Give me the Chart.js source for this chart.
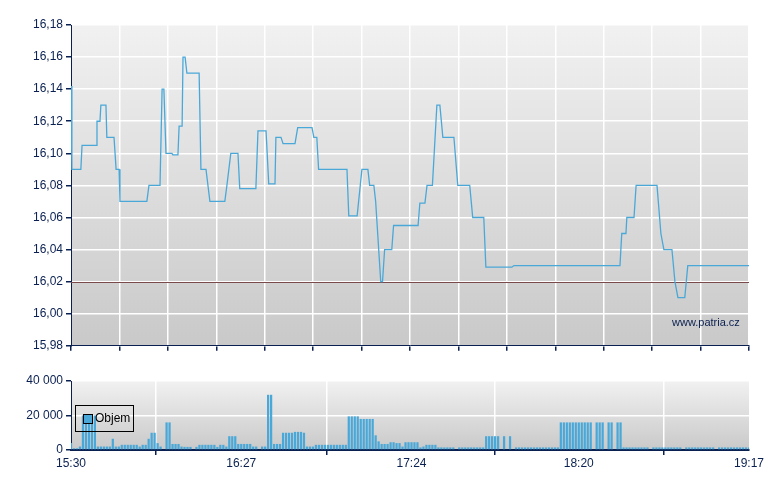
<!DOCTYPE html>
<html><head><meta charset="utf-8">
<script src="https://cdn.jsdelivr.net/npm/chart.js@4"></script>
<style>
body{margin:0;background:#fff;width:780px;height:490px;position:relative;overflow:hidden;font-family:"Liberation Sans",Arial,sans-serif}
#c1{position:absolute;left:0;top:0}
#c2{position:absolute;left:0;top:370px}
#wm{position:absolute;left:672px;top:316px;font-size:11px;color:#0a2050}
#lg{position:absolute;left:75px;top:405px;width:59px;height:27px;border:1px solid #000;font-size:12px;color:#000;box-sizing:border-box}
#lg span.sq{position:absolute;left:7px;top:8px;width:8px;height:8px;background:#4aa8d8;border:1px solid #000}
#lg span.t{position:absolute;left:19px;top:5px}
</style></head><body>
<canvas id="c1" width="780" height="356"></canvas>
<canvas id="c2" width="780" height="120"></canvas>
<div id="wm">www.patria.cz</div>
<div id="lg"><span class="sq"></span><span class="t">Objem</span></div>
<script>
// times in minutes after 15:30
const priceTimes = [
0,0.3,3.3,3.7,8.4,8.7,9.7,10,11.7,12,
14.4,15.1,16.1,16.4,25.4,26.1,29.8,30.5,31.1,31.8,
33.8,34.1,35.8,36.2,37.2,37.5,38.2,38.8,42.9,43.5,
45.2,46.5,51.5,52.2,53.5,55.9,56.5,61.9,62.6,65.3,
66.2,68.3,68.6,70.3,71,75,75.9,80.7,81.3,82.3,
82.9,92.4,93,95.8,97.4,99.4,100,101.4,102,103.7,
104.3,105,107.4,108,116.2,116.8,118.5,119.2,121,122.5,
123.5,124.5,128.2,129.5,133.5,134.5,138.2,138.9,147.6,148.3,
183.8,184.4,185.8,186.1,188.5,189.2,196.2,197.5,198.5,201.2,
202.2,203.2,205.5,206.5,227];
const priceVals = [
16.142,16.09,16.09,16.105,16.105,16.12,16.12,16.13,16.13,16.11,
16.11,16.09,16.09,16.07,16.07,16.08,16.08,16.14,16.14,16.10,
16.10,16.099,16.099,16.117,16.117,16.16,16.16,16.15,16.15,16.09,
16.09,16.07,16.07,16.08,16.10,16.10,16.078,16.078,16.114,16.114,
16.081,16.081,16.11,16.11,16.106,16.106,16.116,16.116,16.11,16.11,
16.09,16.09,16.061,16.061,16.09,16.09,16.08,16.08,16.07,16.02,
16.02,16.04,16.04,16.055,16.055,16.069,16.069,16.08,16.08,16.13,
16.13,16.11,16.11,16.08,16.08,16.06,16.06,16.029,16.029,16.03,
16.03,16.05,16.05,16.06,16.06,16.08,16.08,16.05,16.04,16.04,
16.02,16.01,16.01,16.03,16.03];
const volK = [4,1,1,2,20,20,20,20,20,
2,2,2,2,2,6.5,
2,2,3,3,3,3,3,3,2,3,3,
6.5,10,10,4,2,0,16,16,
3.5,3.5,3.5,2,1.8,1.8,1.8,0,1.8,3,3,
3,3,3,3,1.8,3,3,2,
8,8,8,
3.5,3.5,3.5,3.5,3.5,2,2,0,2,2,
32,32,
3.5,3.5,3.5,
10,10,10,10,10.5,10.5,10.5,10,
2,2,2,3,3,3,3,3,3,3,3,3,3,3,
19.5,19.5,19.5,19.5,
18,18,18,18,18,8.5,5,3.5,3.5,3.5,4.5,4.5,
4,4,2,4.5,4.5,4.5,4.5,4.5,
1.5,2,3,3,3,3,1.5,1.5,1.5,1.5,1.5,1.5,0,1.5,1.5,1.5,1.5,1.5,1.5,1.5,1.5,1.5,
8,8,8,8,8,0,8,0,8,0,
1.5,1.5,1.5,1.5,1.5,1.5,1.5,1.5,1.5,1.5,1.5,1.5,1.5,1.5,1.5,
16,16,16,16,16,16,16,16,16,16,16,0,16,16,16,0,16,16,0,16,16,
1.5,1.5,1.5,1.5,1.5,1.5,1.5,1.5,1.5,0,1.5,1.5,1.5,1.5,1.5,1.5,1.5,1.5,1.5,1.5,0,1.5,1.5,1.5,1.5,1.5,1.5,1.5,1.5,1.5,1.5,0,1.5,1.5,1.5,1.5,1.5,1.5,1.5,1.5,1.5,1.5,1.5];
const timeTicks = [0,57,114,170,227];
const timeLabels = ['15:30','16:27','17:24','18:20','19:17'];
const priceTicks = [15.98,16.00,16.02,16.04,16.06,16.08,16.10,16.12,16.14,16.16,16.18];
const refPrice = 16.02;

const navy = '#0a2050';
const font = {family:'"Liberation Sans", Arial, sans-serif', size:12};
const bgPlugin = {id:'bg', beforeDraw(c){const a=c.chartArea,x=c.ctx;const g=x.createLinearGradient(0,a.top,0,a.bottom);g.addColorStop(0,'#f1f1f1');g.addColorStop(1,'#c9c9c9');x.save();x.fillStyle=g;x.fillRect(a.left,a.top,a.right-a.left,a.bottom-a.top);x.restore();}};
const refPlugin = {id:'ref', beforeDatasetsDraw(c){const a=c.chartArea,x=c.ctx;const y=Math.round(c.scales.y.getPixelForValue(refPrice))+0.5;x.save();x.strokeStyle='#7a4a4a';x.lineWidth=1;x.beginPath();x.moveTo(a.left,y);x.lineTo(a.right,y);x.stroke();x.restore();}};

new Chart(document.getElementById('c1'),{
 type:'line',
 data:{datasets:[{data:priceTimes.map((t,i)=>({x:t,y:priceVals[i]})),borderColor:'#4aa8d8',borderWidth:1.3,pointRadius:0,tension:0}]},
 options:{responsive:false,animation:false,events:[],
  layout:{padding:{left:0,right:31,top:25,bottom:0}},
  plugins:{legend:{display:false},tooltip:{enabled:false}},
  scales:{
   x:{type:'linear',min:0,max:227,
     afterBuildTicks(ax){ax.ticks=Array.from({length:15},(_,i)=>({value:i*227/14}));},
     afterFit(ax){ax.height=10;},
     ticks:{display:false},
     grid:{color:'#ffffff',lineWidth:1.5,tickColor:navy,tickLength:5,drawTicks:true},
     border:{color:navy,width:1}},
   y:{min:15.98,max:16.18,
     afterBuildTicks(ax){ax.ticks=priceTicks.map(v=>({value:v}));},
     afterFit(ax){ax.width=71;},
     ticks:{color:navy,font,padding:3,callback:v=>v.toFixed(2).replace('.',',')},
     grid:{color:'#ffffff',lineWidth:1.5,tickColor:navy,tickLength:5},
     border:{color:navy,width:1}}
  }},
 plugins:[bgPlugin,refPlugin]
});

new Chart(document.getElementById('c2'),{
 type:'bar',
 data:{datasets:[{data:volK.map((v,i)=>({x:i,y:v*1000})),backgroundColor:'#4aa8d8',barPercentage:0.75,categoryPercentage:1}]},
 options:{responsive:false,animation:false,events:[],
  layout:{padding:{left:0,right:31,top:11,bottom:0}},
  plugins:{legend:{display:false},tooltip:{enabled:false}},
  scales:{
   x:{type:'linear',min:0,max:227,offset:false,
     afterBuildTicks(ax){ax.ticks=timeTicks.map(v=>({value:v}));},
     afterFit(ax){ax.height=40;},
     ticks:{color:navy,font,padding:1,maxRotation:0,autoSkip:false,callback:(v,i)=>timeLabels[i]},
     grid:{color:'#ffffff',lineWidth:1.5,tickColor:navy,tickLength:5},
     border:{color:navy,width:2}},
   y:{min:0,max:40000,
     afterBuildTicks(ax){ax.ticks=[0,20000,40000].map(v=>({value:v}));},
     afterFit(ax){ax.width=71;},
     ticks:{color:navy,font,padding:3,callback:v=>v===0?'0':String(v/1000)+' 000'},
     grid:{color:'#ffffff',lineWidth:1.5,tickColor:navy,tickLength:5},
     border:{color:navy,width:1}}
  }},
 plugins:[bgPlugin]
});
</script></body></html>
